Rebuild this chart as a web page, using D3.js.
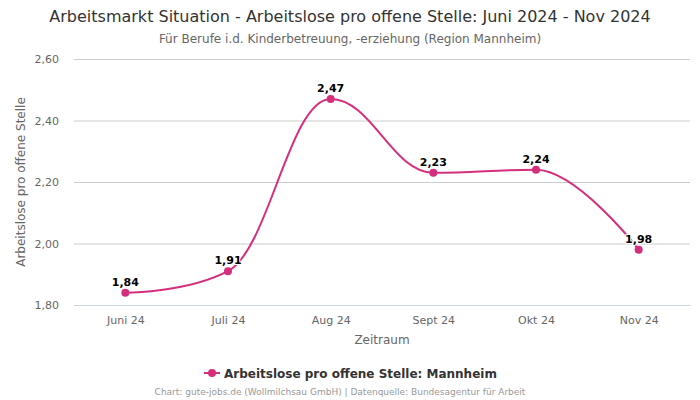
<!DOCTYPE html>
<html><head><meta charset="utf-8">
<script src="https://cdn.jsdelivr.net/npm/d3@7"></script>
<style>body{margin:0;background:#fff}svg{display:block;font-family:"DejaVu Sans",sans-serif}</style>
</head><body><svg id="c" width="700" height="400"></svg>
<script>
const categories = ["Juni 24","Juli 24","Aug 24","Sept 24","Okt 24","Nov 24"];
const values = [1.84,1.91,2.47,2.23,2.24,1.98];
const yTicks = [1.8,2.0,2.2,2.4,2.6];
const seriesName = "Arbeitslose pro offene Stelle: Mannheim";
const color = "#d42e7c";

const svg = d3.select("#c");
const L=74,R=690,T=59,B=305;
const x = d3.scalePoint().domain(categories).range([L,R]).padding(0.5);
const y = d3.scaleLinear().domain([1.8,2.6]).range([B,T]);
const fmt = v => d3.format(".2f")(v).replace(".",",");

svg.append("text").attr("x",350).attr("y",22).attr("text-anchor","middle").attr("font-size",16).attr("fill","#333").text("Arbeitsmarkt Situation - Arbeitslose pro offene Stelle: Juni 2024 - Nov 2024");
svg.append("text").attr("x",350).attr("y",43).attr("text-anchor","middle").attr("font-size",12).attr("fill","#666").text("Für Berufe i.d. Kinderbetreuung, -erziehung (Region Mannheim)");

const ya = svg.append("g").attr("transform",`translate(${L},0)`).call(d3.axisLeft(y).tickValues(yTicks).tickSize(-(R-L)).tickFormat(fmt));
ya.select(".domain").remove();
ya.selectAll(".tick line").attr("stroke","#ccc");
ya.selectAll(".tick text").attr("x",-15).attr("fill","#666").attr("font-size",11).attr("font-family","DejaVu Sans");

const xa = svg.append("g").attr("transform",`translate(0,${B})`).call(d3.axisBottom(x).tickSize(0));
xa.select(".domain").attr("stroke","#ccd6eb");
xa.selectAll(".tick text").attr("dy",0).attr("y",19).attr("fill","#666").attr("font-size",11).attr("font-family","DejaVu Sans");

svg.append("text").attr("x",(L+R)/2).attr("y",344).attr("text-anchor","middle").attr("font-size",12).attr("fill","#666").text("Zeitraum");
svg.append("text").attr("transform",`translate(25,${(T+B)/2}) rotate(-90)`).attr("text-anchor","middle").attr("font-size",12).attr("fill","#666").text("Arbeitslose pro offene Stelle");

// Highcharts-like spline
function splinePath(pts){
  const s=1.5,d=s+1; let p=`M${pts[0][0]},${pts[0][1]}`;
  const rc=[],lc=[];
  for(let i=0;i<pts.length;i++){
    if(i>0&&i<pts.length-1){
      const [px,py]=pts[i],[lx,ly]=pts[i-1],[nx,ny]=pts[i+1];
      let lX=(s*px+lx)/d,lY=(s*py+ly)/d,rX=(s*px+nx)/d,rY=(s*py+ny)/d;
      const c=((rY-lY)*(rX-px))/(rX-lX)+py-rY; lY+=c; rY+=c;
      if(lY>ly&&lY>py){lY=Math.max(ly,py);rY=2*py-lY;} else if(lY<ly&&lY<py){lY=Math.min(ly,py);rY=2*py-lY;}
      if(rY>ny&&rY>py){rY=Math.max(ny,py);lY=2*py-rY;} else if(rY<ny&&rY<py){rY=Math.min(ny,py);lY=2*py-rY;}
      lc[i]=[lX,lY]; rc[i]=[rX,rY];
    }
  }
  for(let i=1;i<pts.length;i++){
    const a=rc[i-1]||pts[i-1], b=lc[i]||pts[i];
    p+=`C${a[0]},${a[1]} ${b[0]},${b[1]} ${pts[i][0]},${pts[i][1]}`;
  }
  return p;
}
const pts = categories.map((c,i)=>[x(c),y(values[i])]);
svg.append("path").attr("d",splinePath(pts)).attr("fill","none").attr("stroke",color).attr("stroke-width",2);
svg.selectAll("circle.pt").data(values).join("circle").attr("cx",(d,i)=>x(categories[i])).attr("cy",d=>y(d)).attr("r",4).attr("fill",color);
svg.selectAll("text.lbl").data(values).join("text").attr("x",(d,i)=>x(categories[i])).attr("y",d=>y(d)-7).attr("text-anchor","middle").attr("font-size",11).attr("font-weight","bold").attr("fill","#000").attr("stroke","#fff").attr("stroke-width",2).attr("paint-order","stroke").text(fmt);

// legend
const lg = svg.append("g");
lg.append("line").attr("x1",204).attr("x2",220).attr("y1",373).attr("y2",373).attr("stroke",color).attr("stroke-width",2);
lg.append("circle").attr("cx",212).attr("cy",373).attr("r",4).attr("fill",color);
lg.append("text").attr("x",224).attr("y",377.5).attr("font-size",12).attr("font-weight","bold").attr("fill","#333").text(seriesName);

svg.append("text").attr("x",340).attr("y",395).attr("text-anchor","middle").attr("font-size",9).attr("fill","#999").text("Chart: gute-jobs.de (Wollmilchsau GmbH) | Datenquelle: Bundesagentur für Arbeit");
</script></body></html>
